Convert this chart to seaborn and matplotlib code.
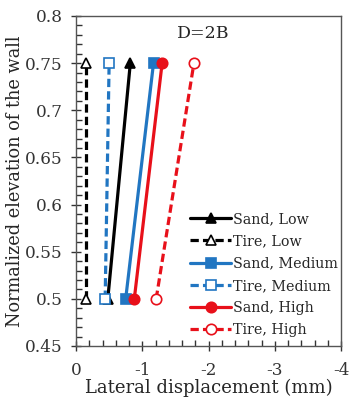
import pandas as pd
import numpy as np
import matplotlib.pyplot as plt
import seaborn as sns
from matplotlib.ticker import MultipleLocator

# elevation levels (normalized)
elevation = [0.5, 0.75]

# lateral displacement (mm) per case
sand_low = [-0.48, -0.82]
tire_low = [-0.15, -0.15]
sand_medium = [-0.75, -1.17]
tire_medium = [-0.44, -0.50]
sand_high = [-0.88, -1.30]
tire_high = [-1.21, -1.78]

labels = ['Sand, Low', 'Tire, Low', 'Sand, Medium', 'Tire, Medium', 'Sand, High', 'Tire, High']
series = [sand_low, tire_low, sand_medium, tire_medium, sand_high, tire_high]
colors = ['black', 'black', '#2176c2', '#2176c2', '#e8101a', '#e8101a']
markers = ['^', '^', 's', 's', 'o', 'o']
filled = [True, False, True, False, True, False]

sns.set_style('white')
plt.rcParams['font.family'] = ['DejaVu Serif']

fig = plt.figure(figsize=(3.49, 4.01), dpi=100)
ax = fig.add_axes([76/349, 1 - 346/401, (341 - 76)/349, (346 - 16)/401])

for lab, vals, c, m, f in zip(labels, series, colors, markers, filled):
    df = pd.DataFrame({'x': vals, 'y': elevation})
    sns.lineplot(data=df, x='x', y='y', ax=ax, sort=False, estimator=None, errorbar=None,
                 color=c, lw=2.3,
                 linestyle='-' if f else (0, (2.6, 1.3)), marker=m, markersize=7.5,
                 markerfacecolor=c if f else 'white', markeredgecolor=c,
                 markeredgewidth=1.2, label=lab)

ax.set_xlim(0, -4)
ax.set_ylim(0.45, 0.8)
ax.xaxis.set_minor_locator(MultipleLocator(0.2))
ax.yaxis.set_minor_locator(MultipleLocator(0.01))
ax.set_xticks([0, -1, -2, -3, -4])
ax.set_xticklabels(['0', '-1', '-2', '-3', '-4'])
ax.set_yticks([0.45, 0.5, 0.55, 0.6, 0.65, 0.7, 0.75, 0.8])
ax.set_yticklabels(['0.45', '0.5', '0.55', '0.6', '0.65', '0.7', '0.75', '0.8'])
ax.tick_params(which='major', direction='inout', length=7, width=1, labelsize=12.2,
               colors='#333333')
ax.tick_params(which='minor', direction='in', length=4, width=1, colors='#333333')
ax.tick_params(axis='x', which='both', bottom=True)
ax.tick_params(axis='y', which='both', left=True)
ax.tick_params(axis='x', which='major', pad=8)
ax.tick_params(axis='y', which='major', pad=6)
for s in ax.spines.values():
    s.set_color('#555555')
    s.set_linewidth(1)

ax.set_xlabel('Lateral displacement (mm)', fontsize=13, labelpad=0)
ax.set_ylabel('Normalized elevation of the wall', fontsize=12.8, labelpad=1)
ax.text(0.48, 0.948, 'D=2B', transform=ax.transAxes, ha='center', va='center', fontsize=12.5)

leg = ax.legend(loc='lower right', frameon=False, fontsize=10.3, handlelength=2.9,
                handletextpad=0.1, labelspacing=0.58, borderaxespad=0.2,
                bbox_to_anchor=(1.02, 0.0))

fig.savefig('out.png', dpi=100)
